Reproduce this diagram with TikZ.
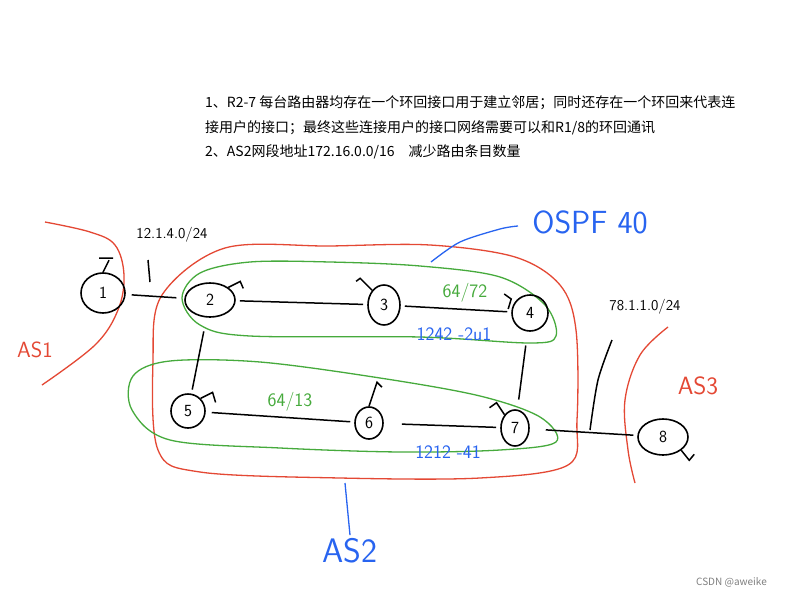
\documentclass[tikz,border=0pt]{standalone}
\usepackage{fontspec}
\newfontfamily\cjk{Noto Sans CJK SC}
\usetikzlibrary{shapes.geometric}
\definecolor{asred}{RGB}{228,72,52}
\definecolor{ospfgreen}{RGB}{70,170,60}
\definecolor{ospfblue}{RGB}{40,100,240}
\tikzset{
  router/.style={ellipse,draw,line width=1.6pt,inner sep=0pt,font=\sffamily\fontsize{17}{17}\selectfont},
  link/.style={draw,line width=1.5pt},
  asline/.style={draw=asred,line width=1.3pt},
  arealine/.style={draw=ospfgreen,line width=1.3pt},
  hand/.style={font=\sffamily\fontsize{#1}{#1}\selectfont},
}
\begin{document}
\begin{tikzpicture}[x=1pt,y=-1pt]
      \useasboundingbox[fill=white] (0,0) rectangle (790,597);

      % notes
      \begin{scope}[every node/.style={anchor=west,inner sep=0pt,font=\cjk\fontsize{14}{14}\selectfont}]
        \node (note1) at (205,103) {1、R2-7 每台路由器均存在一个环回接口用于建立邻居；同时还存在一个环回来代表连};
        \node (note2) at (205,128) {接用户的接口；最终这些连接用户的接口网络需要可以和R1/8的环回通讯};
        \node (note3) at (205,152) {2、AS2网段地址172.16.0.0/16\quad 减少路由条目数量};
      \end{scope}

      % AS borders
      \path[asline] plot[smooth,tension=0.6] coordinates {(45,222) (90,232) (115,245) (124,275) (118,310) (95,345) (42,385)};
      \path[asline] plot[smooth cycle,tension=0.55] coordinates {(225,248) (330,246) (430,245) (515,257) (560,285) (576,330) (577,420) (568,465) (480,478) (340,478) (200,472) (158,450) (153,360) (162,295)};
      \path[asline] plot[smooth,tension=0.6] coordinates {(668,327) (640,355) (625,400) (628,450) (635,483)};

      % OSPF areas
      \path[arealine] plot[smooth cycle,tension=0.55] coordinates {(182,298) (200,273) (250,262) (330,262) (420,266) (500,277) (545,305) (556,336) (530,343) (420,337) (250,336) (200,325)};
      \path[arealine] plot[smooth cycle,tension=0.55] coordinates {(133,376) (170,361) (260,362) (380,378) (480,396) (540,417) (556,442) (500,450) (400,452) (280,448) (170,440) (132,410)};

      \begin{scope}[every node/.style={router}]
        \node[minimum width=44pt,minimum height=40pt] (r1) at (103,293) {1};
        \node[minimum width=50pt,minimum height=34pt] (r2) at (210,300) {2};
        \node[minimum width=32pt,minimum height=40pt] (r3) at (384,305) {3};
        \node[minimum width=36pt,minimum height=36pt] (r4) at (530,313) {4};
        \node[minimum width=34pt,minimum height=34pt] (r5) at (188,411) {5};
        \node[minimum width=28pt,minimum height=32pt] (r6) at (369,423) {6};
        \node[minimum width=28pt,minimum height=36pt] (r7) at (515,428) {7};
        \node[minimum width=50pt,minimum height=36pt] (r8) at (663,437) {8};
      \end{scope}

      \begin{scope}[every edge/.style={link}]
        \path (r1) edge[shorten >=8pt,shorten <=6pt] (r2);
        \path (r2) edge[shorten >=4pt,shorten <=4pt] (r3);
        \path (r3) edge[shorten >=4pt,shorten <=4pt] (r4);
        \path (r2) edge[shorten >=4pt,shorten <=14pt] (r5);
        \path (r4) edge[shorten >=10pt,shorten <=14pt] (r7);
        \path (r5) edge[shorten >=4pt,shorten <=6pt] (r6);
        \path (r6) edge[shorten >=4pt,shorten <=18pt] (r7);
        \path (r7) edge[shorten >=4pt,shorten <=16pt] (r8);
      \end{scope}

      % loopbacks
      \begin{scope}[line width=1.5pt]
        \draw (r1.north) -- ++(6,-12) (r1.north)++(-4,-14) -- ++(14,0);
        \draw (r2.north east) -- ++(12,-6) -- ++(3,7);
        \draw (r3.north west) -- ++(-12,-12) -- ++(-4,3);
        \draw (r4.west) ++(-3,-4) -- ++(3,-10) -- ++(-7,-5);
        \draw (r5.north east) -- ++(12,-6) -- ++(3,10);
        \draw (r6.north) -- ++(8,-24) -- ++(5,5);
        \draw (r7.north west) -- ++(-8,-12) -- ++(-7,5);
        \draw (r8.south east) -- ++(8,10) -- ++(5,-6);
      \end{scope}

      % network markers
      \coordinate (n12) at (148,260);
      \coordinate (n12e) at (150,282);
      \draw[line width=1.5pt] (n12) -- (n12e);
      \draw[line width=1.5pt] plot[smooth] coordinates {(612,340) (598,380) (590,430)};

      % labels
      \node[hand=15] (lab12) at (172,235) {12.1.4.0/24};
      \node[hand=15] (lab78) at (645,307) {78.1.1.0/24};
      \node[hand=32,text=ospfblue] (labospf) at (590,222) {OSPF 40};
      \draw[ospfblue,line width=1.3pt] plot[smooth] coordinates {(431,262) (460,242) (500,229) (518,226)};
      \node[hand=19,text=ospfgreen] (labg1) at (465,293) {64/72};
      \node[hand=19,text=ospfgreen] (labg2) at (290,402) {64/13};
      \node[hand=19,text=ospfblue] (labb1) at (454,334) {1242 -2u1};
      \node[hand=19,text=ospfblue] (labb2) at (448,452) {1212 -41};
      \node[hand=22,text=asred] (labas1) at (35,350) {AS1};
      \node[hand=25,text=asred] (labas3) at (698,386) {AS3};
      \node[hand=34,text=ospfblue] (labas2) at (350,551) {AS2};
      \coordinate (as2top) at (345,483);
      \draw[ospfblue,line width=1.3pt] (as2top) -- (labas2.north);
      \node[anchor=east,inner sep=0pt,text=gray,font=\cjk\fontsize{10}{10}\selectfont] (mark) at (767,582) {CSDN @aweike};

\end{tikzpicture}
\end{document}
